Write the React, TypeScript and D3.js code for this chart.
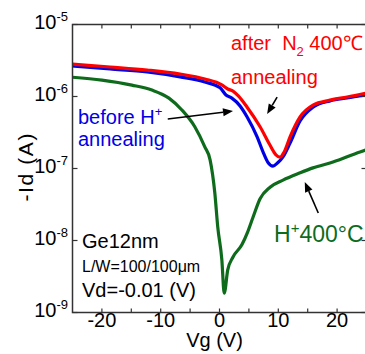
import React, { useEffect, useRef } from "react";
import * as d3 from "d3";

// Id-Vg transfer curves (Vg in V, -Id in A)
const vgRed = [-25, -18.6, -12.3, -6.7, -2.5, 0.4, 1.4, 2.3, 3.2, 4.7, 6.9, 8.6, 9.6, 10.3, 11.0, 12.0, 13.7, 15.9, 18.8, 21.7, 25];
const idRed = [2.82e-6, 2.57e-6, 2.33e-6, 2.05e-6, 1.75e-6, 1.45e-6, 1.27e-6, 1.19e-6, 1.02e-6, 7.1e-7, 3.8e-7, 2.1e-7, 1.55e-7, 1.44e-7, 1.7e-7, 2.75e-7, 5.2e-7, 7.6e-7, 8.9e-7, 9.85e-7, 1.12e-6];

const vgBlue = [-25, -18.6, -12.3, -6.7, -2.5, 0.1, 1.1, 2.1, 3.5, 4.7, 6.4, 7.4, 8.2, 9.1, 9.9, 10.8, 12.0, 13.7, 15.9, 18.8, 21.7, 25];
const idBlue = [2.65e-6, 2.41e-6, 2.19e-6, 1.87e-6, 1.59e-6, 1.32e-6, 1.05e-6, 9.5e-7, 7.4e-7, 5.2e-7, 2.75e-7, 1.7e-7, 1.23e-7, 1.08e-7, 1.2e-7, 1.45e-7, 2.26e-7, 4.57e-7, 7.1e-7, 8.7e-7, 9.55e-7, 1.05e-6];

const vgGreen = [-25, -20, -14.9, -11.5, -8.6, -6.4, -4.2, -2.5, -1.6, -0.8, -0.3, 0.4, 0.8, 1.4, 2.3, 3.8, 4.8, 5.7, 6.9, 8.6, 10.8, 13.7, 15.9, 19.3, 23.9, 25];
const idGreen = [1.85e-6, 1.69e-6, 1.44e-6, 1.23e-6, 9.5e-7, 6.5e-7, 3.8e-7, 2.0e-7, 1.32e-7, 4.6e-8, 1.55e-8, 5.4e-9, 1.85e-9, 3.9e-9, 5.9e-9, 8.7e-9, 1.32e-8, 2.1e-8, 3.8e-8, 5.5e-8, 6.9e-8, 8.7e-8, 1.02e-7, 1.23e-7, 1.7e-7, 1.82e-7];

const xTicks = [-20, -15, -10, -5, 0, 5, 10, 15, 20];
const xTickLabels = [-20, -10, 0, 10, 20];
const yExponents = [-5, -6, -7, -8, -9];

// arrows: [vg0, id0, vg1, id1], head at the second point
const arrows = [
  [-8.8, 4.87e-7, 2.3, 6.3e-7],
  [9.8, 9.8e-7, 8.1, 5.7e-7],
  [16.8, 2.41e-8, 14.5, 6.5e-8],
];

const FONT = "'Liberation Sans', Arial, Helvetica, sans-serif";

const App = () => {
  const ref = useRef<SVGSVGElement>(null);

  useEffect(() => {
    const svg = d3.select(ref.current);
    svg.selectAll("*").remove();
    svg.attr("font-family", FONT);

    const x = d3.scaleLinear().domain([-25, 25]).range([72.5, 366.5]);
    const y = d3.scaleLog().domain([1e-9, 1e-5]).range([312.5, 24.5]);
    const [x0, x1] = x.range();
    const [y0, y1] = y.range();

    // curves
    const line = d3
      .line<[number, number]>()
      .x((d) => x(d[0]))
      .y((d) => y(d[1]))
      .curve(d3.curveMonotoneX);

    const series = [
      { vg: vgGreen, id: idGreen, color: "#0f6b1c" },
      { vg: vgBlue, id: idBlue, color: "#0000e6" },
      { vg: vgRed, id: idRed, color: "#ff0000" },
    ];
    series.forEach((s) => {
      svg
        .append("path")
        .attr("d", line(s.vg.map((v, i) => [v, s.id[i]] as [number, number])))
        .attr("fill", "none")
        .attr("stroke", s.color)
        .attr("stroke-width", 3.2)
        .attr("stroke-linejoin", "round");
    });

    // frame + ticks
    const axisColor = "#333";
    svg
      .append("rect")
      .attr("x", x0)
      .attr("y", y1)
      .attr("width", x1 - x0)
      .attr("height", y0 - y1)
      .attr("fill", "none")
      .attr("stroke", axisColor)
      .attr("stroke-width", 1.5);

    const ticks = svg.append("g").attr("stroke", axisColor).attr("stroke-width", 1.2);
    xTicks.forEach((t) => {
      ticks.append("line").attr("x1", x(t)).attr("x2", x(t)).attr("y1", y0).attr("y2", y0 - 4);
      ticks.append("line").attr("x1", x(t)).attr("x2", x(t)).attr("y1", y1).attr("y2", y1 + 4);
    });
    yExponents.forEach((e) => {
      const yy = y(Math.pow(10, e));
      ticks.append("line").attr("x1", x0).attr("x2", x0 + 5).attr("y1", yy).attr("y2", yy);
      ticks.append("line").attr("x1", x1).attr("x2", x1 - 5).attr("y1", yy).attr("y2", yy);
    });

    // tick labels
    xTickLabels.forEach((t) => {
      svg
        .append("text")
        .attr("x", x(t))
        .attr("y", 327)
        .attr("text-anchor", "middle")
        .attr("font-size", 20)
        .text(t);
    });
    yExponents.forEach((e) => {
      const yy = y(Math.pow(10, e));
      const t = svg
        .append("text")
        .attr("x", 68)
        .attr("y", yy + 4)
        .attr("text-anchor", "end")
        .attr("font-size", 20);
      t.append("tspan").text("10");
      t.append("tspan").attr("font-size", 13).attr("dy", -8).text(`${e}`);
    });

    // axis titles
    svg
      .append("text")
      .attr("x", (x0 + x1) / 2 - 5)
      .attr("y", 347)
      .attr("text-anchor", "middle")
      .attr("font-size", 20)
      .text("Vg (V)");
    svg
      .append("text")
      .attr("transform", `translate(33,${(y0 + y1) / 2 - 1}) rotate(-90)`)
      .attr("text-anchor", "middle")
      .attr("font-size", 21)
      .attr("textLength", 68)
      .attr("lengthAdjust", "spacing")
      .text("-Id (A)");

    // arrows
    arrows.forEach(([a, b, c, d]) => {
      const px0 = x(a), py0 = y(b), px1 = x(c), py1 = y(d);
      const ang = Math.atan2(py1 - py0, px1 - px0);
      const len = 10, hw = 4;
      const bx = px1 - len * Math.cos(ang), by = py1 - len * Math.sin(ang);
      svg
        .append("line")
        .attr("x1", px0)
        .attr("y1", py0)
        .attr("x2", bx)
        .attr("y2", by)
        .attr("stroke", "#000")
        .attr("stroke-width", 1.6);
      svg
        .append("path")
        .attr(
          "d",
          `M${px1},${py1}L${bx - hw * Math.sin(ang)},${by + hw * Math.cos(ang)}L${bx + hw * Math.sin(ang)},${by - hw * Math.cos(ang)}Z`
        )
        .attr("fill", "#000");
    });

    // annotations
    const red = svg.append("text").attr("x", 231).attr("y", 50).attr("font-size", 20).attr("fill", "#ff0000");
    red.append("tspan").text("after\u00a0\u00a0N");
    red.append("tspan").attr("font-size", 13).attr("dy", 6).text("2");
    red.append("tspan").attr("dy", -6).text(" 400℃");
    svg.append("text").attr("x", 231).attr("y", 84).attr("font-size", 20).attr("fill", "#ff0000").text("annealing");

    const blue = svg.append("text").attr("x", 78).attr("y", 124).attr("font-size", 20).attr("fill", "#0000e6");
    blue.append("tspan").text("before H");
    blue.append("tspan").attr("font-size", 13).attr("dy", -8).text("+");
    svg.append("text").attr("x", 78).attr("y", 146).attr("font-size", 20).attr("fill", "#0000e6").text("annealing");

    const green = svg.append("text").attr("x", 274).attr("y", 242).attr("font-size", 23).attr("fill", "#0f6b1c");
    green.append("tspan").text("H");
    green.append("tspan").attr("font-size", 15).attr("dy", -9).text("+");
    green.append("tspan").attr("dy", 9).text("400°C");

    svg.append("text").attr("x", 82).attr("y", 248).attr("font-size", 20).text("Ge12nm");
    svg.append("text").attr("x", 82).attr("y", 272).attr("font-size", 16).text("L/W=100/100μm");
    svg.append("text").attr("x", 82).attr("y", 297).attr("font-size", 20).text("Vd=-0.01 (V)");
  }, []);

  return (
    <div style={{ position: "absolute", left: 0, top: 0 }}>
      <svg ref={ref} width={365} height={354} style={{ display: "block", background: "#fff" }}></svg>
    </div>
  );
};

export default App;
